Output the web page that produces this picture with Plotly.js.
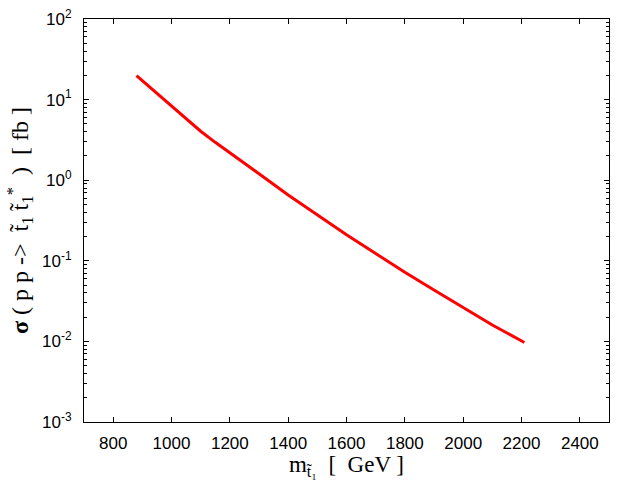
<!DOCTYPE html>
<html>
<head>
<meta charset="utf-8">
<script src="https://cdn.plot.ly/plotly-3.0.1.min.js"></script>
<style>html,body{margin:0;padding:0;background:#fff;}#chart{width:640px;height:480px;}</style>
</head>
<body>
<div id="chart"></div>
<script>
// stop mass [GeV]
var mass = [880, 940, 1000, 1050, 1100, 1150, 1200, 1300, 1400, 1500, 1600, 1700, 1800, 1900, 2000, 2100, 2210];
// cross section [fb]
var sigma = [19.8, 12.9, 8.4, 5.9, 4.05, 2.95, 2.2, 1.2, 0.656, 0.372, 0.211, 0.123, 0.072, 0.0435, 0.0262, 0.016, 0.0097];
var xTickVals = [800, 1000, 1200, 1400, 1600, 1800, 2000, 2200, 2400];
var yTickVals = [0.001, 0.01, 0.1, 1, 10, 100];
var yTickText = ['10<sup>-3</sup>', '10<sup>-2</sup>', '10<sup>-1</sup>', '10<sup>0</sup>', '10<sup>1</sup>', '10<sup>2</sup>'];

var trace = {
  x: mass, y: sigma, type: 'scatter', mode: 'lines',
  line: {color: '#ff0000', width: 3}, hoverinfo: 'skip'
};

var tickFont = {family: 'Liberation Sans, Arial, sans-serif', size: 17, color: '#000'};
var xTitleFont = {family: 'Liberation Serif, Times New Roman, serif', size: 23, color: '#000'};
var yTitleFont = {family: 'Liberation Serif, Times New Roman, serif', size: 24, color: '#000'};

var layout = {
  width: 640, height: 480,
  margin: {l: 84, r: 31, t: 19, b: 58},
  paper_bgcolor: '#fff', plot_bgcolor: '#fff',
  showlegend: false,
  xaxis: {
    range: [700, 2500], tickvals: xTickVals, ticks: 'inside', ticklen: 5,
    tickcolor: '#000', showline: true, linecolor: '#000', linewidth: 1, mirror: 'ticks',
    showgrid: false, zeroline: false, tickfont: tickFont, ticklabelstandoff: 6,
    title: {text: 'm<sub>t̃₁</sub>  [  GeV ]', font: xTitleFont, standoff: 2}
  },
  yaxis: {
    type: 'log', range: [-3, 2], tickvals: yTickVals, ticktext: yTickText,
    ticks: 'inside', ticklen: 5, tickcolor: '#000',
    minor: {ticks: 'inside', ticklen: 3, tickcolor: '#000', dtick: 'D1', showgrid: false},
    showline: true, linecolor: '#000', linewidth: 1, mirror: 'ticks',
    showgrid: false, zeroline: false, tickfont: tickFont, ticklabelstandoff: 8,
    title: {text: '<b>σ</b> ( p p ->  t̃<sub>1</sub> t̃<sub>1</sub><sup>*</sup>  )  [ fb ]', font: yTitleFont, standoff: 6}
  }
};

Plotly.newPlot('chart', [trace], layout, {displayModeBar: false, staticPlot: true});
</script>
</body>
</html>
